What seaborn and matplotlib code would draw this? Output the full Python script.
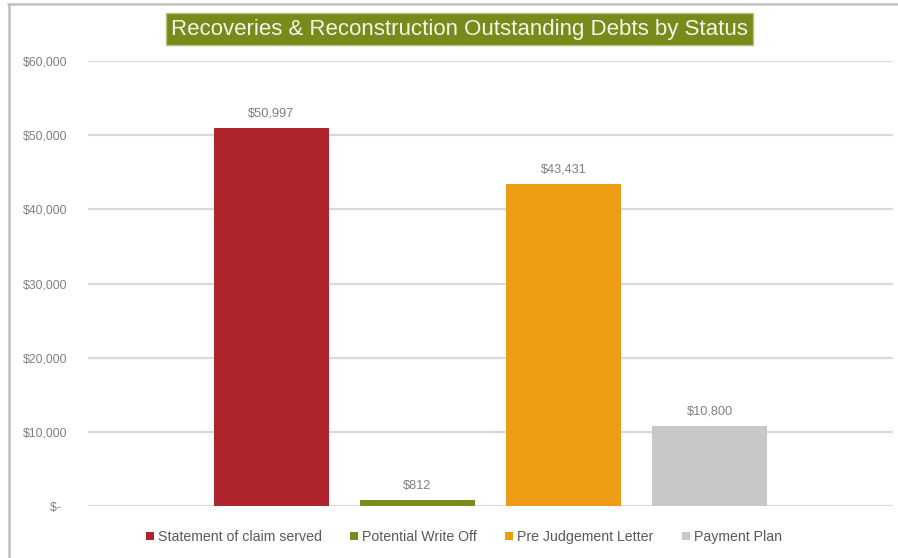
import matplotlib
matplotlib.use("Agg")
import matplotlib.pyplot as plt
import seaborn as sns
import pandas as pd
from matplotlib.lines import Line2D
from matplotlib.patches import Rectangle

statuses = ["Statement of claim served", "Potential Write Off", "Pre Judgement Letter", "Payment Plan"]
values = [50997, 812, 43431, 10800]
colors = ["#b0242e", "#7a8a1c", "#ee9c14", "#c8c8c8"]
yticks = [0, 10000, 20000, 30000, 40000, 50000, 60000]
ytick_labels = ["$-", "$10,000", "$20,000", "$30,000", "$40,000", "$50,000", "$60,000"]
title = "Recoveries & Reconstruction Outstanding Debts by Status"

df = pd.DataFrame({"group": ["All"] * len(statuses), "status": statuses, "value": values})

sns.set_theme(style="white")
plt.rcParams["font.family"] = ["Liberation Sans", "DejaVu Sans"]

W, H = 898, 558
fig = plt.figure(figsize=(W / 100, H / 100), dpi=100)
ax = fig.add_axes([88 / W, 1 - 506 / H, (893 - 88) / W, (506 - 61) / H])

sns.barplot(data=df, x="group", y="value", hue="status", hue_order=statuses,
            palette=colors, saturation=1, width=0.7255, gap=0.21, ax=ax, legend=False,
            edgecolor="none", linewidth=0, zorder=3)

ax.set_xlim(-0.5, 0.5)
ax.set_ylim(0, 60000)
ax.set_yticks(yticks)
ax.set_yticklabels([t if t != "$-" else "$-  " for t in ytick_labels], color="#7f7f7f", fontsize=8.8)
ax.set_xticks([])
ax.set_xlabel("")
ax.set_ylabel("")
ax.tick_params(axis="y", length=0, pad=15)
ax.grid(axis="y", color="#d9d9d9", linewidth=1.6, zorder=0)
for s in ax.spines.values():
    s.set_visible(False)

for cont in ax.containers:
    ax.bar_label(cont, labels=[f"${v:,.0f}" for v in cont.datavalues],
                 padding=6, color="#7f7f7f", fontsize=9.2)

# Title box
fig.text(459.5 / W, 1 - 29 / H, title, ha="center", va="center", fontsize=16,
         color="#f4f4ec",
         bbox=dict(boxstyle="square,pad=0.25", facecolor="#7a8a1a", edgecolor="#b8c080", linewidth=1))

# Legend
handles = [Rectangle((0, 0), 1, 1, facecolor=c, edgecolor="none") for c in colors]
fig.legend(handles, statuses, loc="center", bbox_to_anchor=(464 / W, 1 - 537 / H),
           ncol=4, frameon=False, fontsize=10.2, labelcolor="#595959",
           handlelength=0.55, handleheight=0.55, handletextpad=0.3, columnspacing=2.0)

# Border lines (top and left)
fig.add_artist(Line2D([8 / W, 1], [1 - 3.5 / H, 1 - 3.5 / H], color="#c0c0c0", linewidth=1.8, transform=fig.transFigure))
fig.add_artist(Line2D([8.5 / W, 8.5 / W], [0, 1 - 3.5 / H], color="#c0c0c0", linewidth=1.8, transform=fig.transFigure))

fig.savefig("out.png", dpi=100, facecolor="white")
